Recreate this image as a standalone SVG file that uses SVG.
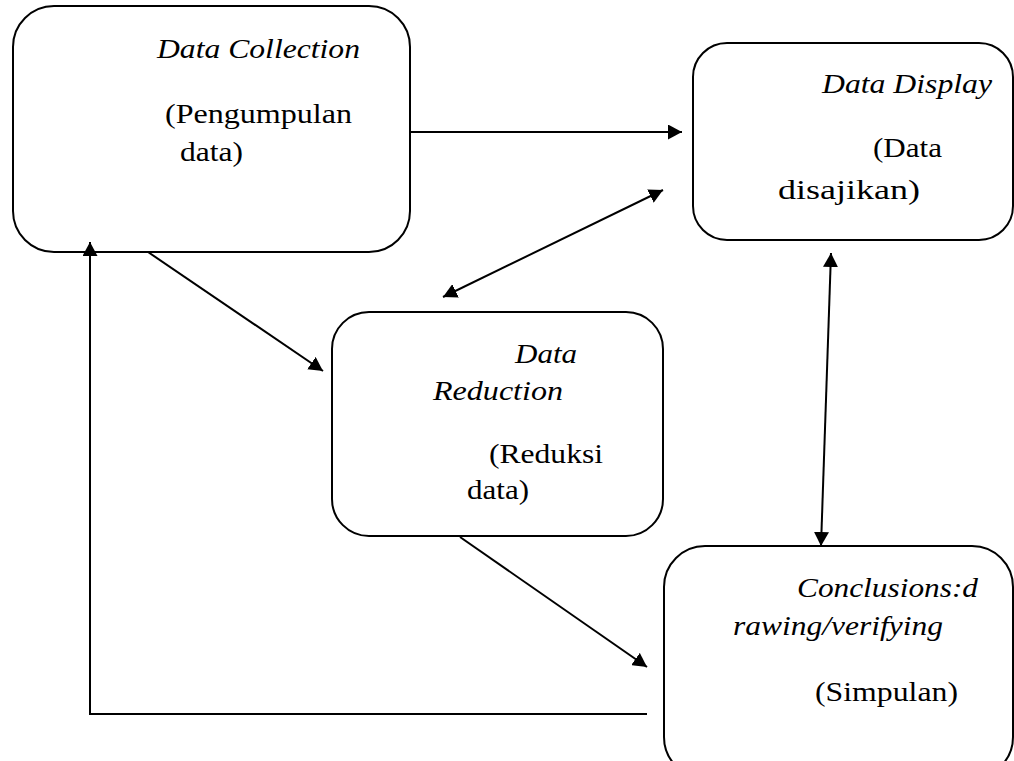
<svg xmlns="http://www.w3.org/2000/svg" width="1014" height="761" viewBox="0 0 1014 761">
<style>
.box{fill:#fff;stroke:#000;stroke-width:2}
.t{font-family:"Liberation Serif","Times New Roman",serif;font-size:28px;fill:#000}
.i{font-style:italic}
.c{fill:none;stroke:#000;stroke-width:2}
</style>
<defs>
<marker id="ah" viewBox="0 0 14 15" refX="14" refY="7.5" markerWidth="14" markerHeight="15" markerUnits="userSpaceOnUse" orient="auto-start-reverse">
<path d="M0,0 L14,7.5 L0,15 z" fill="#000"/>
</marker>
</defs>
<rect width="1014" height="761" fill="#fff"/>
<g id="n-collection">
<rect class="box" x="13" y="6" width="397" height="246" rx="41" ry="41"/>
<text class="t i" x="157" y="58" textLength="203" lengthAdjust="spacingAndGlyphs">Data Collection</text>
<text class="t" x="165" y="123" textLength="187" lengthAdjust="spacingAndGlyphs">(Pengumpulan</text>
<text class="t" x="180" y="161" textLength="63" lengthAdjust="spacingAndGlyphs">data)</text>
</g>
<g id="n-display">
<rect class="box" x="693" y="43" width="320" height="197" rx="34" ry="34"/>
<text class="t i" x="822" y="93" textLength="170" lengthAdjust="spacingAndGlyphs">Data Display</text>
<text class="t" x="873" y="157" textLength="69" lengthAdjust="spacingAndGlyphs">(Data</text>
<text class="t" x="778" y="199" textLength="142" lengthAdjust="spacingAndGlyphs">disajikan)</text>
</g>
<g id="n-reduction">
<rect class="box" x="332" y="312" width="331" height="224" rx="37" ry="37"/>
<text class="t i" x="515" y="363" textLength="62" lengthAdjust="spacingAndGlyphs">Data</text>
<text class="t i" x="433" y="400" textLength="130" lengthAdjust="spacingAndGlyphs">Reduction</text>
<text class="t" x="489" y="463" textLength="114" lengthAdjust="spacingAndGlyphs">(Reduksi</text>
<text class="t" x="467" y="499" textLength="62" lengthAdjust="spacingAndGlyphs">data)</text>
</g>
<g id="n-conclusions">
<rect class="box" x="664" y="546" width="349" height="232" rx="41" ry="41"/>
<text class="t i" x="797" y="597" textLength="181" lengthAdjust="spacingAndGlyphs">Conclusions:d</text>
<text class="t i" x="733" y="635" textLength="210" lengthAdjust="spacingAndGlyphs">rawing/verifying</text>
<text class="t" x="815" y="701" textLength="143" lengthAdjust="spacingAndGlyphs">(Simpulan)</text>
</g>
<g id="connectors">
<line class="c" x1="410" y1="132" x2="682" y2="132" marker-end="url(#ah)"/>
<line class="c" x1="443" y1="297" x2="663" y2="190" marker-start="url(#ah)" marker-end="url(#ah)"/>
<line class="c" x1="148" y1="252" x2="323" y2="371" marker-end="url(#ah)"/>
<line class="c" x1="831" y1="253" x2="821" y2="546" marker-start="url(#ah)" marker-end="url(#ah)"/>
<line class="c" x1="460" y1="537" x2="647" y2="667" marker-end="url(#ah)"/>
<polyline class="c" points="647,714 90,714 90,242" marker-end="url(#ah)"/>
</g>
</svg>
